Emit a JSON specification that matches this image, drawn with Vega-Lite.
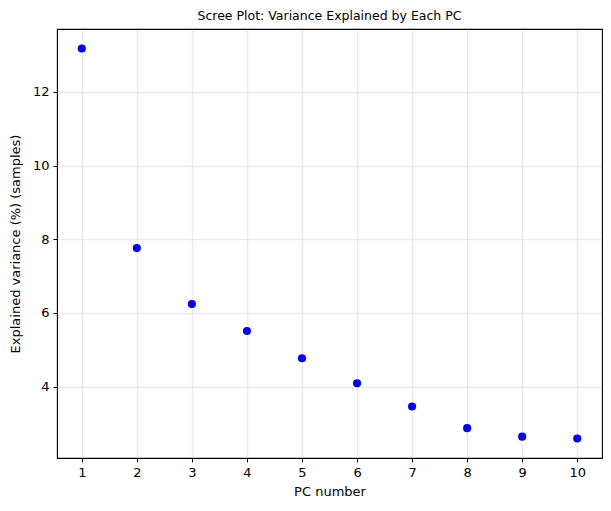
{
  "$schema": "https://vega.github.io/schema/vega-lite/v6.json",
  "width": 545,
  "height": 429,
  "autosize": {"type": "none"},
  "padding": {"left": 57, "top": 29, "right": 9, "bottom": 53},
  "background": "white",
  "title": {"text": "Scree Plot: Variance Explained by Each PC", "font": "DejaVu Sans", "fontSize": 12.5, "fontWeight": "normal", "color": "black", "offset": 7},
  "config": {
    "view": {"stroke": "black", "strokeWidth": 1.1},
    "axis": {
      "labelFont": "DejaVu Sans", "labelFontSize": 13, "labelColor": "black",
      "titleFont": "DejaVu Sans", "titleFontSize": 13, "titleFontWeight": "normal", "titleColor": "black",
      "tickColor": "black", "tickSize": 4, "domain": false,
      "grid": true, "gridColor": "#b0b0b0", "gridOpacity": 0.25, "gridWidth": 1.4
    }
  },
  "data": {"values": [
    {"pc": 1, "var": 13.18},
    {"pc": 2, "var": 7.76},
    {"pc": 3, "var": 6.24},
    {"pc": 4, "var": 5.51},
    {"pc": 5, "var": 4.77},
    {"pc": 6, "var": 4.09},
    {"pc": 7, "var": 3.46},
    {"pc": 8, "var": 2.87},
    {"pc": 9, "var": 2.64},
    {"pc": 10, "var": 2.59}
  ]},
  "mark": {"type": "point", "filled": true, "color": "#0000ff", "size": 66, "opacity": 1},
  "encoding": {
    "x": {"field": "pc", "type": "quantitative", "title": "PC number",
      "scale": {"domain": [0.55, 10.45], "nice": false, "zero": false},
      "axis": {"values": [1,2,3,4,5,6,7,8,9,10], "format": "d", "labelPadding": 4, "titlePadding": 6}},
    "y": {"field": "var", "type": "quantitative", "title": "Explained variance (%) (samples)",
      "scale": {"domain": [2.06, 13.71], "nice": false, "zero": false},
      "axis": {"values": [4, 6, 8, 10, 12], "format": "d", "labelPadding": 4, "titlePadding": 10}}
  }
}
